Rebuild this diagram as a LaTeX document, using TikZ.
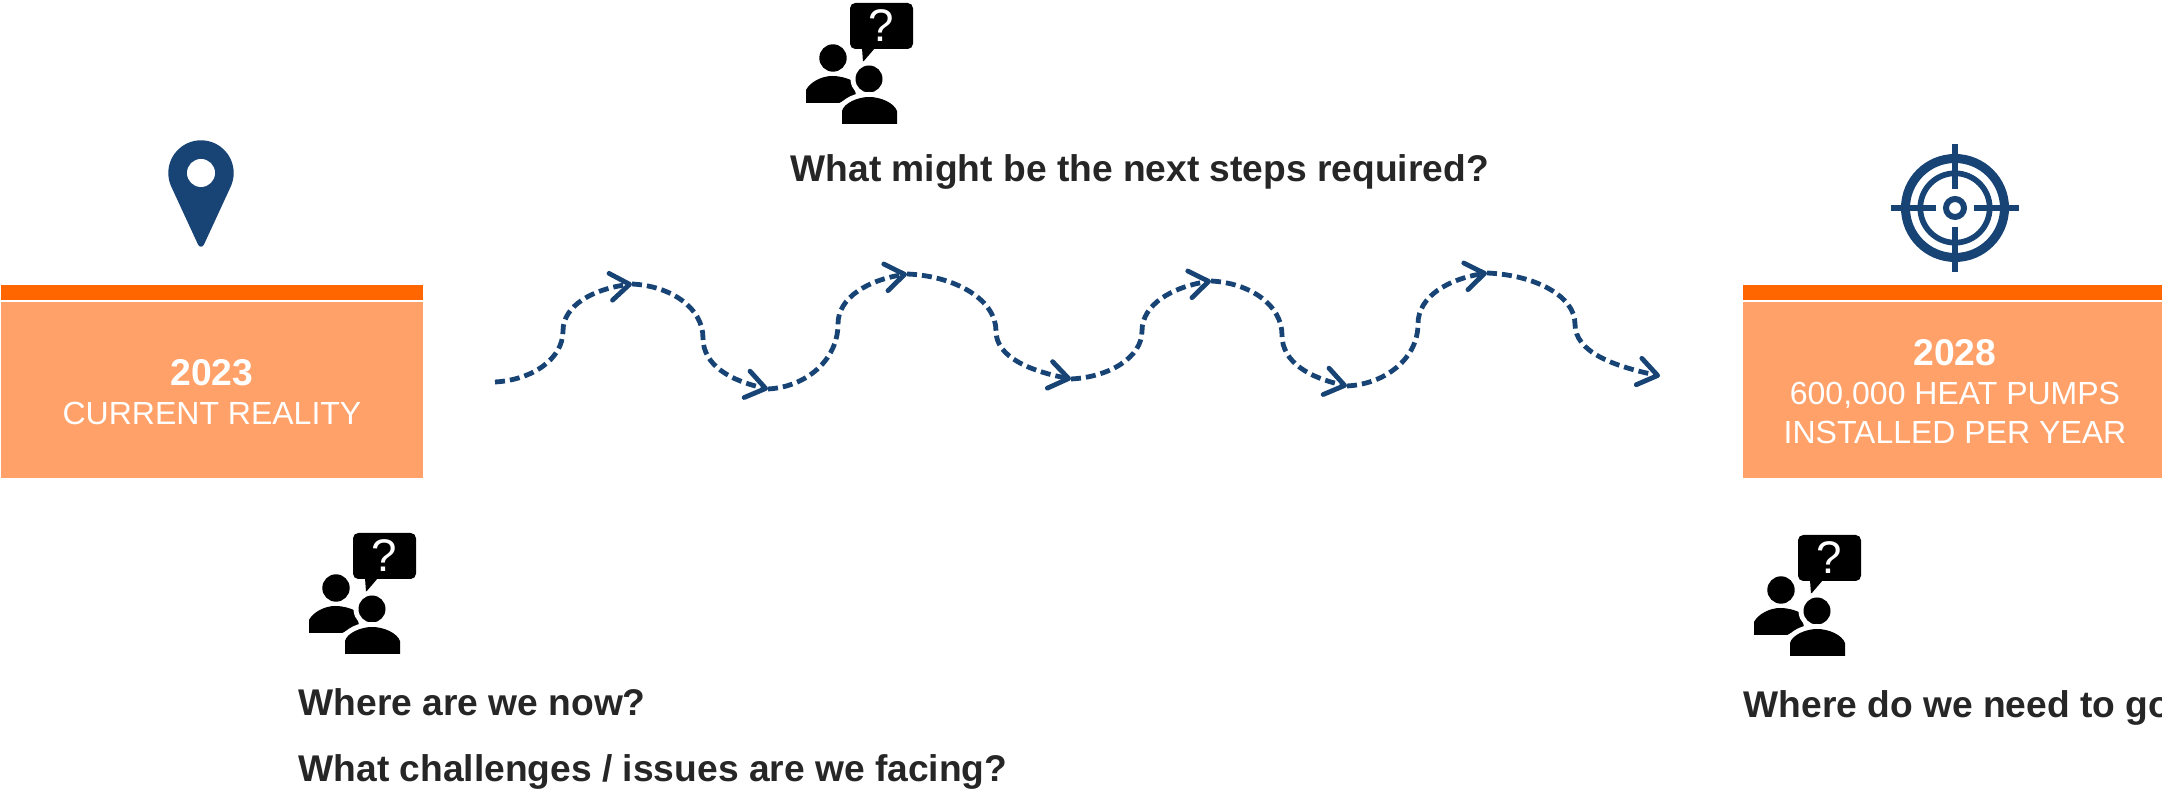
\documentclass[tikz,border=0pt]{standalone}
\usepackage{fontspec}
\setmainfont{Liberation Sans}
\usetikzlibrary{arrows.meta}

\definecolor{barorange}{HTML}{FF6600}
\definecolor{cardorange}{HTML}{FFA168}
\definecolor{pathblue}{HTML}{174375}
\definecolor{asktext}{HTML}{262626}

\begin{document}
\begin{tikzpicture}[
  x=0.01cm, y=0.01cm,
  bar/.style      = {fill=barorange, inner sep=0pt, minimum width=4.22cm, minimum height=0.15cm},
  card/.style     = {fill=cardorange, inner sep=0pt, minimum width=4.22cm, minimum height=1.76cm},
  cardtext/.style = {text=white, align=center, inner sep=0pt, font=\fontsize{9.1}{11.1}\selectfont},
  ask/.style      = {anchor=base west, inner sep=0pt, text=asktext, font=\fontsize{10.57}{14}\selectfont\bfseries},
  trail/.style    = {draw=pathblue, line width=0.048cm, dash pattern=on 0.1cm off 0.05cm,
                     -{Straight Barb[round, length=0.19cm, width=0.27cm]}},
  gap/.style      = {fill=black, preaction={draw=white, line width=0.1cm}},
  ring/.style     = {draw=pathblue},
  hair/.style     = {draw=pathblue, line width=0.057cm},
  askers/.pic     = {
    \fill[rounded corners=1.5pt] (44,0) rectangle (107,-46);
    \fill (56,-45) -- (57,-59) -- (69,-45) -- cycle;
    \node[text=white, inner sep=0pt, font=\fontsize{13}{13}\selectfont] (-q) at (75.5,-23) {?};
    \fill (27,-55) circle[radius=13.7];
    \fill (0,-100) -- (0,-87) .. controls (4,-79) and (16,-73) .. (26,-73)
      .. controls (34,-73) and (41,-75) .. (47,-78) -- (50,-92) -- (33,-100) -- cycle;
    \path[gap] (63,-76) circle[radius=13.5];
    \path[gap] (36,-121) -- (36,-108) .. controls (38,-100) and (52,-94) .. (63,-94)
      .. controls (75,-94) and (88,-100) .. (91,-108) -- (91,-121) -- cycle;
  },
  pin/.pic        = {
    \fill[pathblue] (205:32.7) arc[start angle=205, end angle=-25, radius=32.7]
      -- (3,-71.5) .. controls (1.5,-74.5) and (-1.5,-74.5) .. (-3,-71.5) -- cycle;
    \fill[white] (0,0) circle[radius=14];
  },
  target/.pic     = {
    \draw[ring, line width=0.09cm] (0,0) circle[radius=49.5];
    \draw[ring, line width=0.057cm] (0,0) circle[radius=34.7];
    \draw[ring, line width=0.06cm] (0,0) circle[radius=9];
    \draw[hair] (0,19) -- (0,64);
    \draw[hair] (0,-19) -- (0,-64);
    \draw[hair] (-19,0) -- (-64,0);
    \draw[hair] (19,0) -- (64,0);
  },
]
\useasboundingbox (0,0) rectangle (2162,794);

% ---- start card -------------------------------------------------------------
\node[bar] (nowbar) at (212,501) {};
\node[card] (nowcard) at (212,404) {};
\node[cardtext] (nowtitle) at (212,402)
  {\textbf{\fontsize{10.6}{11.1}\selectfont 2023}\\CURRENT REALITY};
\pic (nowpin) at (201,621) {pin};

% ---- goal card --------------------------------------------------------------
\node[bar] (goalbar) at (1954,501) {};
\node[card] (goalcard) at (1954,404) {};
\node[cardtext] (goaltitle) at (1955,402)
  {\textbf{\fontsize{10.6}{11.1}\selectfont 2028}\\600,000 HEAT PUMPS\\INSTALLED PER YEAR};
\pic (goaltarget) at (1955,586) {target};

% ---- questions --------------------------------------------------------------
\pic (asksteps) at (806,791) {askers};
\pic (asknow) at (309,261) {askers};
\pic (askgoal) at (1754,259) {askers};
\node[ask] (stepstext) at (790,612) {What might be the next steps required?};
\node[ask] (nowtext) at (298,78) {Where are we now?};
\node[ask] (issuestext) at (298,12) {What challenges / issues are we facing?};
\node[ask] (goaltext) at (1743,76) {Where do we need to go};

% ---- winding path -----------------------------------------------------------
\coordinate (p0) at (495,412);
\coordinate (q1) at (563,463);
\coordinate (p1) at (632,510);
\coordinate (q2) at (703,456);
\coordinate (p2) at (768,405);
\coordinate (q3) at (838,470);
\coordinate (p3) at (907,520);
\coordinate (q4) at (996,463);
\coordinate (p4) at (1071,415);
\coordinate (q5) at (1142,463);
\coordinate (p5) at (1211,513);
\coordinate (q6) at (1282,459);
\coordinate (p6) at (1347,408);
\coordinate (q7) at (1418,470);
\coordinate (p7) at (1487,521);
\coordinate (q8) at (1575,470);
\coordinate (p8) at (1660,418);

\draw[trail] (p0) .. controls +(37,2) and +(0,-28) .. (q1) .. controls +(0,26) and +(-38,-5) .. (p1);
\draw[trail] (p1) .. controls +(39,-2) and +(0,30) .. (q2) .. controls +(0,-28) and +(-36,8) .. (p2);
\draw[trail] (p2) .. controls +(38,2) and +(0,-36) .. (q3) .. controls +(0,27) and +(-38,-6) .. (p3);
\draw[trail] (p3) .. controls +(49,-2) and +(0,31) .. (q4) .. controls +(0,-26) and +(-41,8) .. (p4);
\draw[trail] (p4) .. controls +(39,2) and +(0,-26) .. (q5) .. controls +(0,27) and +(-38,-6) .. (p5);
\draw[trail] (p5) .. controls +(39,-2) and +(0,30) .. (q6) .. controls +(0,-28) and +(-36,8) .. (p6);
\draw[trail] (p6) .. controls +(39,2) and +(0,-34) .. (q7) .. controls +(0,28) and +(-38,-6) .. (p7);
\draw[trail] (p7) .. controls +(48,-2) and +(0,28) .. (q8) .. controls +(0,-28) and +(-47,10) .. (p8);

\end{tikzpicture}
\end{document}
